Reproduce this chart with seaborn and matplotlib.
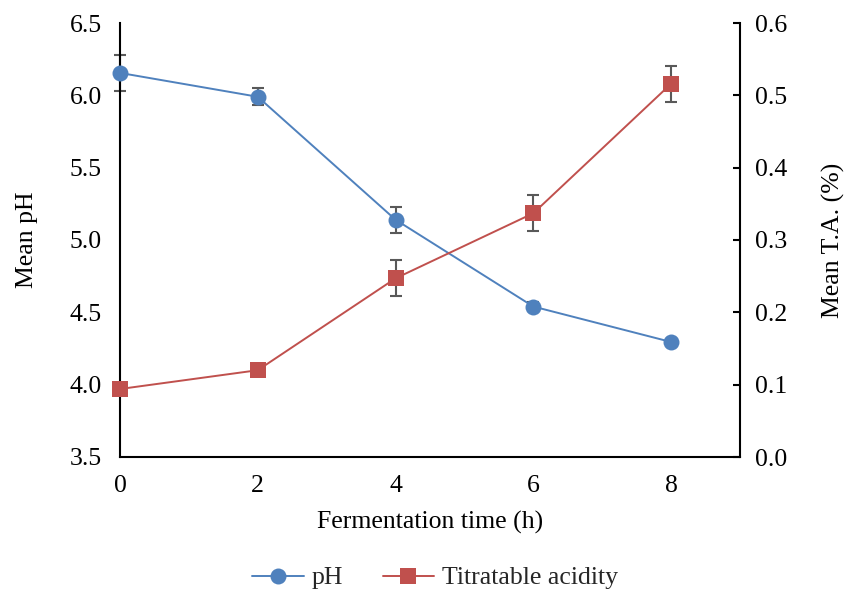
import matplotlib
matplotlib.use("Agg")
import matplotlib.pyplot as plt
import seaborn as sns
import pandas as pd
import numpy as np

sns.set_theme(style="white")
plt.rcParams['font.family'] = ['Liberation Serif', 'DejaVu Serif']

time_h = [0, 2, 4, 6, 8]
ph_mean = [6.155, 5.99, 5.14, 4.54, 4.295]
ph_err = [0.125, 0.06, 0.09, 0.03, 0.01]
ta_mean = [0.094, 0.120, 0.247, 0.337, 0.516]
ta_err = [0.004, 0.004, 0.025, 0.025, 0.025]

df = pd.DataFrame({"time": time_h, "ph": ph_mean, "ph_err": ph_err,
                   "ta": ta_mean, "ta_err": ta_err})

blue = "#4F81BD"
red = "#C0504D"
errc = "#595959"
fs = 18.5

fig = plt.figure(figsize=(8.48, 5.92), dpi=100)
ax = fig.add_axes([120/848, 1-457/592, 620/848, 434/592])
ax2 = ax.twinx()

ax.errorbar(df["time"], df["ph"], yerr=df["ph_err"], fmt="none",
            ecolor=errc, elinewidth=1.5, capsize=4.3, capthick=1.5, zorder=2,
            clip_on=False)
sns.lineplot(data=df, x="time", y="ph", ax=ax, color=blue, marker="o",
             markersize=11.5, markeredgewidth=0, linewidth=1.4, zorder=3,
             label="pH", legend=False, clip_on=False)

ax2.errorbar(df["time"], df["ta"], yerr=df["ta_err"], fmt="none",
             ecolor=errc, elinewidth=1.5, capsize=4.3, capthick=1.5, zorder=2,
             clip_on=False)
sns.lineplot(data=df, x="time", y="ta", ax=ax2, color=red, marker="s",
             markersize=11, markeredgewidth=0, linewidth=1.4, zorder=3,
             label="Titratable acidity", legend=False, clip_on=False)

ax.set_xlim(0, 9)
ax.set_ylim(3.5, 6.5)
ax2.set_ylim(0.0, 0.6)
ax.set_xticks([0, 2, 4, 6, 8])
ax.set_yticks(np.arange(3.5, 6.51, 0.5))
ax.set_yticklabels([f"{v:.1f}" for v in np.arange(3.5, 6.51, 0.5)])
ax2.set_yticks(np.arange(0, 0.61, 0.1))
ax2.set_yticklabels([f"{v:.1f}" for v in np.arange(0, 0.61, 0.1)])

for a in (ax, ax2):
    a.spines["top"].set_visible(False)
    for s in a.spines.values():
        s.set_color("black")
        s.set_linewidth(1.5)
ax.spines["right"].set_visible(False)
ax2.spines["left"].set_visible(False)
ax2.spines["bottom"].set_visible(False)

ax.tick_params(axis="x", length=0, labelsize=fs, colors="black", pad=13)
ax.tick_params(axis="y", length=0, labelsize=fs, colors="black", pad=13)
ax2.tick_params(axis="y", direction="in", length=5, width=1.5, labelsize=fs,
                colors="black", pad=11)

ax.set_xlabel("Fermentation time (h)", fontsize=fs, color="black", labelpad=10)
ax.set_ylabel("Mean pH", fontsize=fs, color="black", labelpad=23)
ax2.set_ylabel("Mean T.A. (%)", fontsize=fs, color="black", labelpad=25)

h1, l1 = ax.get_legend_handles_labels()
h2, l2 = ax2.get_legend_handles_labels()
fig.legend(h1 + h2, l1 + l2, loc="center", bbox_to_anchor=(435/848, 1-578/592),
           ncol=2, frameon=False, fontsize=fs, handlelength=2.0,
           columnspacing=1.55, handletextpad=0.3)

fig.savefig("out.png", dpi=100)
